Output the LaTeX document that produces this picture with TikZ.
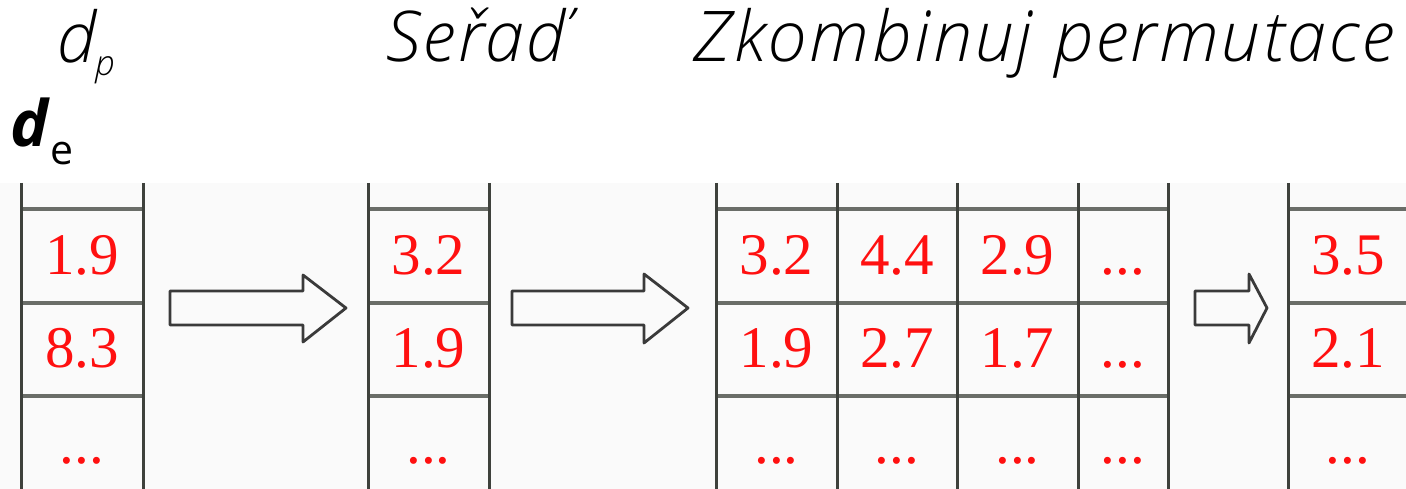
\documentclass[tikz,border=0pt]{standalone}
\usepackage{fontspec}
\setmainfont{Liberation Serif}
\newfontfamily\headfont{Open Sans Light Italic}
\newfontfamily\spacedhead{Open Sans Light Italic}[LetterSpace=4]
\newfontfamily\plainhead{Open Sans}
\definecolor{bg}{HTML}{FAFAFA}
\definecolor{vcol}{HTML}{3E413C}
\definecolor{hcol}{HTML}{6A6D68}
\definecolor{acol}{HTML}{3A3A3A}
\definecolor{numred}{HTML}{FF1010}
\tikzset{
  vline/.style={line width=3pt, draw=vcol},
  hline/.style={line width=4.2pt, draw=hcol},
  val/.style={anchor=base, text=numred, inner sep=0pt, font=\fontsize{59}{60}\selectfont},
  blockarrow/.style={draw=acol, line width=2.8pt, line join=round, fill=bg},
  heading/.style={anchor=base west, inner sep=0pt, font=\spacedhead\fontsize{70}{80}\selectfont}
}
\begin{document}
\begin{tikzpicture}[x=1pt,y=-1pt]
\useasboundingbox (0,0) rectangle (1406,489);
\clip (0,0) rectangle (1406,489);
\fill[bg] (0,183) rectangle (1406,489);

% headings
\node[anchor=base west, inner sep=0pt, font=\headfont\fontsize{70}{80}\selectfont] (dp) at (57,63) {d};
\node[anchor=base west, inner sep=0pt, font=\headfont\fontsize{35}{40}\selectfont] (dpsub) at (95,76) {p};
\node[heading] (serad) at (386,62) {Seřaď};
\node[heading] (zkomb) at (693,62) {Zkombinuj permutace};
\node[anchor=base west, inner sep=0pt, font=\plainhead\itshape\fontsize{64}{70}\selectfont] (de) at (10,147) {\textbf{d}};
\node[anchor=base west, inner sep=0pt, font=\plainhead\fontsize{41}{45}\selectfont] (desub) at (50,165) {e};

% horizontal rules of the four tables
\foreach \y in {209,303,396}{
  \draw[hline] (21,\y) -- (143,\y);
  \draw[hline] (368,\y) -- (489,\y);
  \draw[hline] (716,\y) -- (1168,\y);
  \draw[hline] (1288,\y) -- (1420,\y);
}
% vertical rules
\foreach \x in {21,143,368,489,716,837,957,1078,1168,1288}{
  \draw[vline] (\x,183) -- (\x,489);
}

% table 1
\node[val] (a1) at (82,275) {1.9};
\node[val] (a2) at (82,367) {8.3};
\node[val] (a3) at (82,463) {...};
% table 2
\node[val] (b1) at (428.5,275) {3.2};
\node[val] (b2) at (428.5,367) {1.9};
\node[val] (b3) at (428.5,463) {...};
% table 3
\node[val] (c11) at (776.5,275) {3.2};
\node[val] (c12) at (897,275) {4.4};
\node[val] (c13) at (1017.5,275) {2.9};
\node[val] (c14) at (1123,275) {...};
\node[val] (c21) at (776.5,367) {1.9};
\node[val] (c22) at (897,367) {2.7};
\node[val] (c23) at (1017.5,367) {1.7};
\node[val] (c24) at (1123,367) {...};
\node[val] (c31) at (776.5,463) {...};
\node[val] (c32) at (897,463) {...};
\node[val] (c33) at (1017.5,463) {...};
\node[val] (c34) at (1123,463) {...};
% table 4
\node[val] (d1) at (1348,275) {3.5};
\node[val] (d2) at (1348,367) {2.1};
\node[val] (d3) at (1348,463) {...};

% block arrows between the tables
\draw[blockarrow] (170,291) -- (303,291) -- (303,275) -- (346,308) -- (303,342) -- (303,325) -- (170,325) -- cycle;
\draw[blockarrow] (512,291) -- (644,291) -- (644,274) -- (688,308) -- (644,343) -- (644,325) -- (512,325) -- cycle;
\draw[blockarrow] (1195,291) -- (1249,291) -- (1249,274) -- (1267,308) -- (1249,343) -- (1249,325) -- (1195,325) -- cycle;
\end{tikzpicture}
\end{document}
